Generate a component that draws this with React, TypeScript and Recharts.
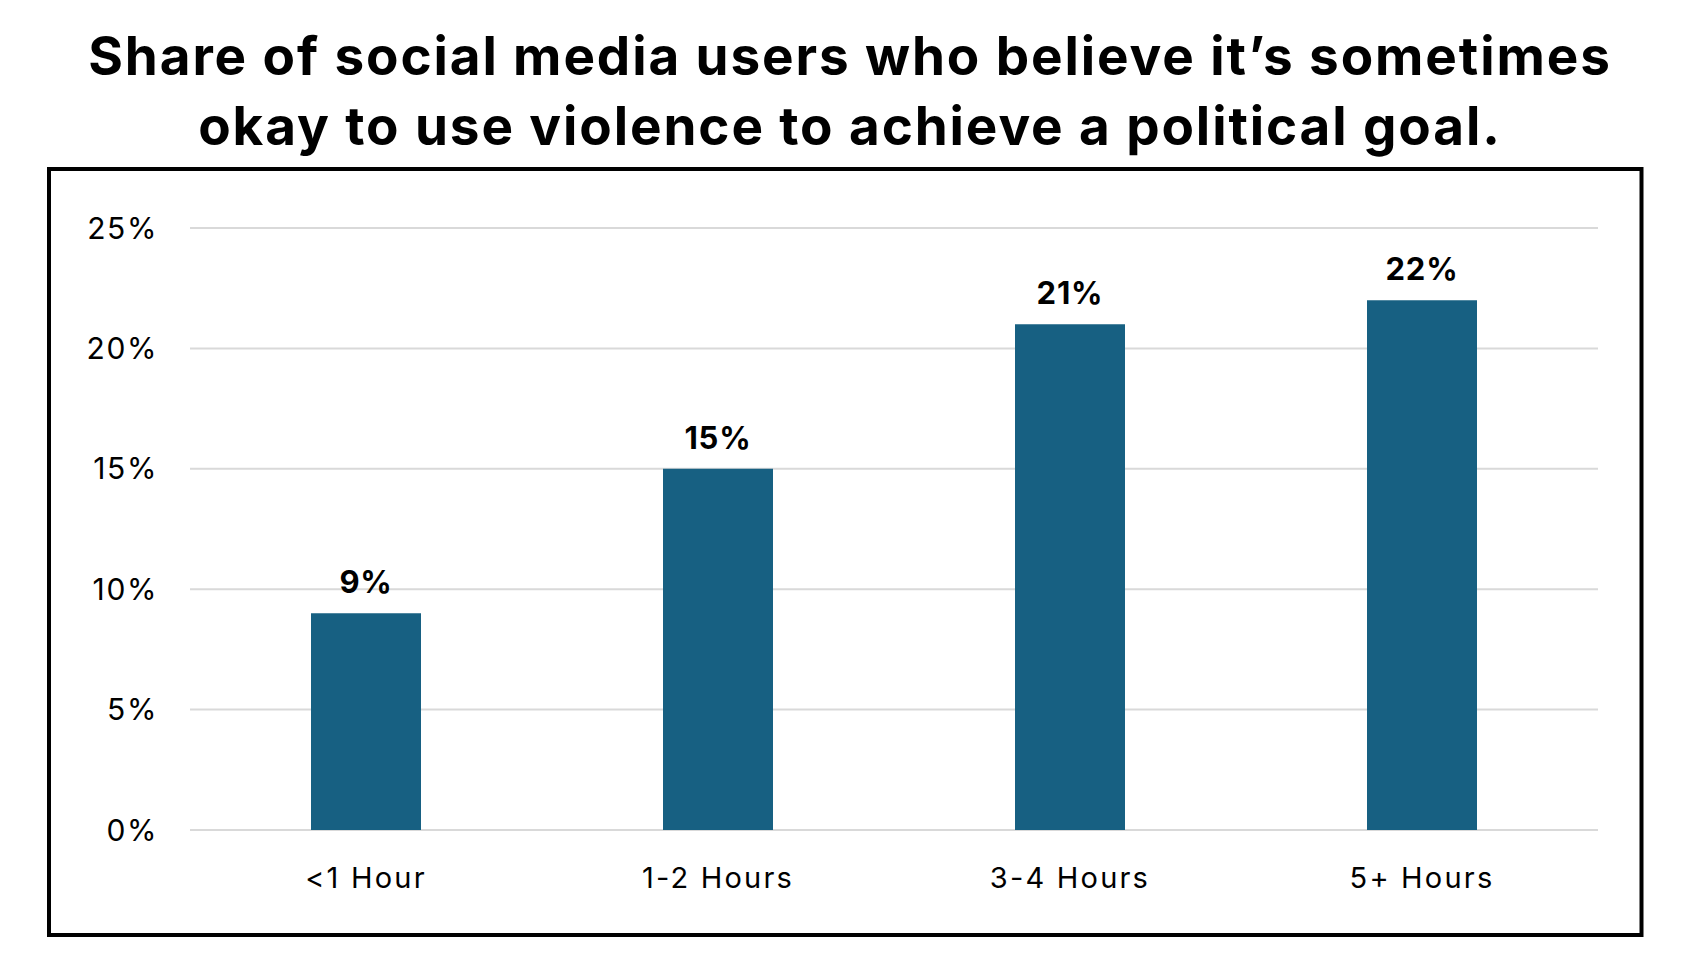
import React from "react";
import { BarChart, Bar, XAxis, YAxis, CartesianGrid, LabelList } from "recharts";

const categories = ["<1 Hour", "1-2 Hours", "3-4 Hours", "5+ Hours"];
const shares = [9, 15, 21, 22];
const yTicks = [0, 5, 10, 15, 20, 25];
const titleLines = [
  "Share of social media users who believe it\u2019s sometimes",
  "okay to use violence to achieve a political goal.",
];

const data = categories.map((c, i) => ({ category: c, share: shares[i] }));

const FONT = "Inter, 'Open Sans', sans-serif";

export default function App() {
  return (
    <div style={{ position: "absolute", left: 0, top: 0, width: 1689, height: 965, background: "#fff" }}>
      <svg width={1689} height={965} style={{ position: "absolute", left: 0, top: 0 }}>
        {titleLines.map((t, i) => (
          <text
            key={i}
            x={850}
            y={75 + i * 70}
            textAnchor="middle"
            fontFamily={FONT}
            fontWeight={700}
            fontSize={53}
            letterSpacing={1.9}
            fill="#000"
          >
            {t}
          </text>
        ))}
        <rect x={49} y={169} width={1592.5} height={766} fill="none" stroke="#000" strokeWidth={4} />
      </svg>
      <div style={{ position: "absolute", left: 0, top: 0 }}>
        <BarChart
          width={1689}
          height={965}
          data={data}
          margin={{ top: 228, right: 91, bottom: 75, left: 40 }}
        >
          <CartesianGrid vertical={false} stroke="#D9D9D9" strokeWidth={2} />
          <XAxis
            dataKey="category"
            height={60}
            axisLine={false}
            tickLine={false}
            tickSize={0}
            tickMargin={37}
            tick={{ fill: "#000", fontSize: 29, fontFamily: FONT, letterSpacing: 2.2 }}
            interval={0}
          />
          <YAxis
            width={150}
            domain={[0, 25]}
            ticks={yTicks}
            axisLine={false}
            tickLine={false}
            tickSize={0}
            tickMargin={32}
            tickFormatter={(v: number) => `${v}%`}
            tick={{ fill: "#000", fontSize: 30, fontFamily: FONT, letterSpacing: 1.6 }}
          />
          <Bar dataKey="share" fill="#176082" barSize={110} isAnimationActive={false}>
            <LabelList
              dataKey="share"
              position="top"
              offset={20}
              formatter={(v: number) => `${v}%`}
              style={{ fill: "#000", fontSize: 31, fontWeight: 700, fontFamily: FONT, letterSpacing: 0.8 }}
            />
          </Bar>
        </BarChart>
      </div>
    </div>
  );
}
